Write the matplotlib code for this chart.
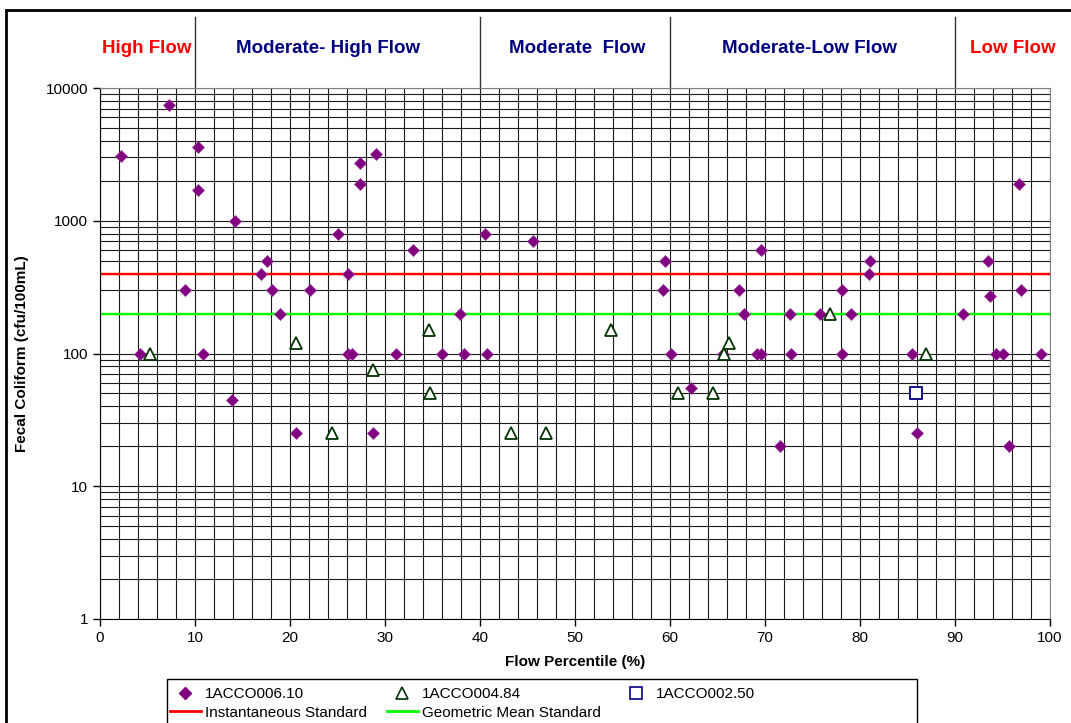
import matplotlib.pyplot as plt
from matplotlib.lines import Line2D
from matplotlib.patches import Rectangle
from matplotlib.ticker import LogLocator, NullFormatter, FixedLocator, FixedFormatter

plt.rcParams['font.family'] = ['Liberation Sans', 'DejaVu Sans']

# 1ACCO006.10 (Raute)
d_x = [2.2, 4.25, 7.3, 8.9, 10.3, 10.3, 10.8, 13.9, 14.2, 16.9, 17.6, 18.1, 18.9, 20.6, 22.1,
       25.0, 26.1, 26.1, 26.5, 27.4, 27.4, 28.7, 29.0, 31.2, 32.9, 36.0, 37.9, 38.3, 40.5, 40.7,
       45.6, 59.3, 59.5, 60.1, 62.2, 65.6, 67.3, 67.8, 69.2, 69.6, 69.6, 71.6, 72.6, 72.7, 75.8,
       78.1, 78.1, 79.1, 80.9, 81.0, 85.5, 86.0, 90.8, 93.5, 93.7, 94.3, 95.1, 95.7, 96.7, 96.9, 99.0]
d_y = [3100, 100, 7400, 300, 3600, 1700, 100, 45, 1000, 400, 500, 300, 200, 25, 300,
       800, 400, 100, 100, 2700, 1900, 25, 3200, 100, 600, 100, 200, 100, 800, 100,
       700, 300, 500, 100, 55, 100, 300, 200, 100, 100, 600, 20, 200, 100, 200,
       300, 100, 200, 400, 500, 100, 25, 200, 500, 270, 100, 100, 20, 1900, 300, 100]

# 1ACCO004.84 (Dreieck)
t_x = [5.3, 20.6, 24.4, 28.7, 34.6, 34.7, 43.3, 46.9, 53.8, 60.8, 64.5, 65.7, 66.2, 76.8, 86.9]
t_y = [100, 120, 25, 75, 150, 50, 25, 25, 150, 50, 50, 100, 120, 200, 100]

# 1ACCO002.50 (Quadrat)
s_x = [85.9]
s_y = [50]

# Standards
inst_std = 400
geo_std = 200

# Abflussbereiche
zone_edges = [10, 40, 60, 90]
zone_labels = ['High Flow', 'Moderate- High Flow', 'Moderate  Flow', 'Moderate-Low Flow', 'Low Flow']
zone_pos = [4.9, 24.0, 50.2, 74.7, 96.1]
zone_colors = ['#FF0000', '#000080', '#000080', '#000080', '#FF0000']

fig = plt.figure(figsize=(10.71, 7.23), dpi=100)
ax = fig.add_axes([100 / 1071, 104 / 723, 950 / 1071, 531 / 723])

# Gitternetz
ax.set_xlim(0, 100)
ax.set_yscale('log')
ax.set_ylim(1, 10000)
ax.xaxis.set_major_locator(FixedLocator(range(0, 101, 10)))
ax.xaxis.set_minor_locator(FixedLocator(range(0, 101, 2)))
ax.yaxis.set_major_locator(FixedLocator([1, 10, 100, 1000, 10000]))
ax.yaxis.set_major_formatter(FixedFormatter(['1', '10', '100', '1000', '10000']))
ax.yaxis.set_minor_locator(LogLocator(base=10, subs=range(2, 10)))
ax.yaxis.set_minor_formatter(NullFormatter())
ax.grid(True, which='both', color='#1a1a1a', linewidth=0.8)
ax.set_axisbelow(True)
ax.tick_params(which='major', direction='out', length=5, width=1, labelsize=11, color='black')
ax.tick_params(which='minor', length=0)
for side in ['top', 'right']:
    ax.spines[side].set_color('#808080')
for side in ['left', 'bottom']:
    ax.spines[side].set_color('black')

# Standardlinien
ax.axhline(inst_std, color='#FF0000', linewidth=1.7)
ax.axhline(geo_std, color='#00FF00', linewidth=1.7)

# Messpunkte
ax.plot(d_x, d_y, linestyle='none', marker='D', markersize=6, color='#800080',
        markeredgecolor='#993399', markeredgewidth=0.5)
ax.plot(t_x, t_y, linestyle='none', marker='^', markersize=9, markerfacecolor='white',
        markeredgecolor='#003300', markeredgewidth=1.3)
ax.plot(s_x, s_y, linestyle='none', marker='s', markersize=9, markerfacecolor='white',
        markeredgecolor='#000080', markeredgewidth=1.3)

# Kopfzeile mit Abflussbereichen
trans = ax.get_xaxis_transform()
for xv in zone_edges:
    ax.plot([xv, xv], [1.0, 1.134], transform=trans, clip_on=False, color='#333333', linewidth=1)
for lab, xp, col in zip(zone_labels, zone_pos, zone_colors):
    ax.text(xp, 1.075, lab, transform=trans, ha='center', va='center',
            fontsize=13.5, fontweight='bold', color=col)

# Achsentitel
ax.set_xlabel('Flow Percentile (%)', fontsize=11, fontweight='bold')
ax.xaxis.set_label_coords(0.5, -0.068)
ax.set_ylabel('Fecal Coliform (cfu/100mL)', fontsize=11, fontweight='bold')
ax.yaxis.set_label_coords(-0.075, 0.5)

# Rahmen
fig.add_artist(Rectangle((6 / 1071, -0.1), 1.2, 713 / 723 + 0.1, transform=fig.transFigure,
                         fill=False, edgecolor='black', linewidth=2))

# Legende
handles = [
    Line2D([], [], linestyle='none', marker='D', markersize=6, color='#800080', label='1ACCO006.10'),
    Line2D([], [], color='#FF0000', linewidth=2, label='Instantaneous Standard'),
    Line2D([], [], linestyle='none', marker='^', markersize=8, markerfacecolor='white',
           markeredgecolor='#003300', markeredgewidth=1.2, label='1ACCO004.84'),
    Line2D([], [], color='#00FF00', linewidth=2, label='Geometric Mean Standard'),
    Line2D([], [], linestyle='none', marker='s', markersize=8, markerfacecolor='white',
           markeredgecolor='#000080', markeredgewidth=1.2, label='1ACCO002.50'),
]
fig.add_artist(Rectangle((167 / 1071, -0.1), 750 / 1071, (723 - 679) / 723 + 0.1,
                         transform=fig.transFigure, fill=False, edgecolor='black', linewidth=1))
leg = fig.legend(handles=handles, loc='upper left', bbox_to_anchor=(170 / 1071, 1 - 687 / 723),
                 ncol=3, fontsize=11, frameon=False, handlelength=2, handletextpad=0.3,
                 columnspacing=1.3, borderpad=0.0, labelspacing=0.3, borderaxespad=0)

fig.savefig('out.png', dpi=100)
